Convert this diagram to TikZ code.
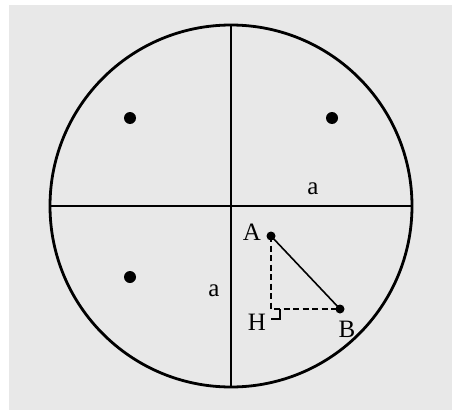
\documentclass[tikz,border=0pt]{standalone}
\usepackage{fontspec}
\setmainfont{Liberation Serif}
\usepackage{tikz}
\begin{document}
\begin{tikzpicture}[x=1pt,y=-1pt,line width=2.2pt,font=\fontsize{25}{30}\selectfont]
\useasboundingbox (0,0) rectangle (452,412);
\fill[black!9] (9,5) rectangle (452,410);
\coordinate (O) at (231,206);
\draw[line width=2.8pt] (O) circle[radius=181];
\draw (O)++(0,-181)--++(0,362);\draw (O)++(-181,0)--++(362,0);
\fill (130,118) circle[radius=6];\fill (332,118) circle[radius=6];\fill (130,277) circle[radius=6];
\coordinate (A) at (271,236);\coordinate (B) at (340,309);\coordinate (H) at (271,309);
\draw[dash pattern=on 6pt off 3.5pt,line width=1.8pt] (A)--(H)--(B);
\draw[line width=1.5pt] ([yshift=-10]H)-|([xshift=9]H);
\draw[line width=1.6pt] (A)--(B);
\fill (A) circle[radius=4.5];\fill (B) circle[radius=4.5];
\node (lA) at (252,232) {A};\node (lH) at (257,322) {H};\node (lB) at (347,329) {B};
\node (la1) at (313,189) {a};\node (la2) at (214,291) {a};
\end{tikzpicture}
\end{document}
